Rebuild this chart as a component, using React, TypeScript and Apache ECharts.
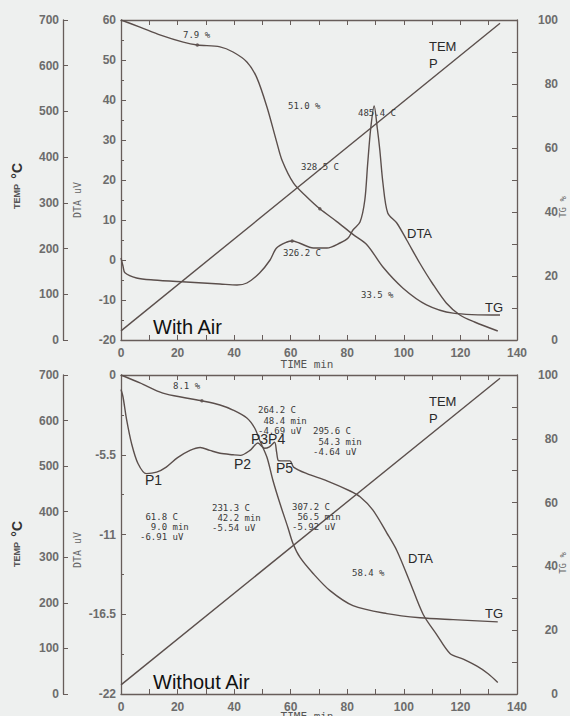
import React, { useEffect, useRef } from "react";
import * as echarts from "echarts";

// ---------- data ----------
const timeTicks = [0, 20, 40, 60, 80, 100, 120, 140];
const tempTicks = [0, 100, 200, 300, 400, 500, 600, 700];
const tgTicks = [0, 20, 40, 60, 80, 100];
const dtaAirTicks = [-20, -10, 0, 10, 20, 30, 40, 50, 60];
const dtaNoAirTicks = [-22, -16.5, -11, -5.5, 0];

// temperature program (both runs)
const tempTime = [0, 134];
const tempAir = [20, 693];
const tempNoAir = [20, 693];

// With Air
const tgAirTime = [0, 6.7, 14, 22, 27, 35, 39.6, 44.5, 48, 51.6, 55, 57, 61, 65.7, 70.3, 76.3, 82, 87, 92.6, 99.7, 108, 117.4, 134];
const tgAirValues = [100, 97.8, 95.3, 93.1, 92.2, 91.6, 90, 86.9, 82, 72.8, 62, 56, 49, 44.7, 41, 37, 33, 29.7, 22.8, 16.2, 11, 8.4, 7.8];

const dtaAirTime = [0, 0.7, 1.4, 5.5, 11.5, 23, 35, 41, 44.5, 49, 52.7, 55, 58.7, 60.5, 63, 68, 72.8, 77.4, 80.3, 82, 84.5, 86.2, 87.2, 88.3, 89.5, 90.6, 91.5, 92.6, 94.3, 97.5, 101, 105.6, 110, 115, 119.8, 125, 133.2];
const dtaAirValues = [0.5, -1.5, -3.2, -4.5, -5, -5.5, -6, -6.25, -5.75, -3.25, 0, 3, 4.5, 4.75, 4.25, 3, 3, 4.25, 5.5, 7.5, 9.5, 15, 24, 33, 38.5, 33, 27.5, 19.25, 11.75, 9.25, 5, -0.75, -5.75, -10.75, -13.75, -15.5, -17.75];

// Without Air
const tgNoAirTime = [0, 6.7, 14.8, 23, 28.6, 35, 39.6, 44.5, 47.3, 49, 51.6, 53.7, 56.2, 59, 60.8, 63.3, 68, 73.9, 82, 94, 105.7, 117.4, 133.2];
const tgNoAirValues = [100, 97.5, 94.3, 92.8, 91.9, 90.6, 89, 86.5, 83.3, 79.6, 74.2, 67, 59.7, 52.2, 47.2, 42.8, 37.7, 32.4, 27.7, 25.2, 23.9, 23.3, 22.6];

const dtaNoAirTime = [0, 0.7, 2, 3.7, 6, 9, 12.6, 16, 20, 24.4, 28, 31.4, 35, 39.6, 42.2, 45.6, 48.4, 50.7, 52.5, 54.3, 55, 55.6, 56.5, 59.7, 61, 65.7, 72.8, 81, 84.5, 89, 94, 97.5, 102, 106.8, 111.6, 116.3, 121, 126, 129.8, 133.2];
const dtaNoAirValues = [-1.0, -1.5, -3.1, -4.7, -6.1, -6.8, -6.7, -6.35, -5.7, -5.2, -5.0, -5.2, -5.4, -5.5, -5.54, -5.2, -4.69, -5.05, -4.95, -4.64, -5.3, -5.9, -5.92, -5.92, -6.35, -6.8, -7.3, -8.0, -8.4, -9.3, -10.9, -12.1, -14.2, -16.5, -17.9, -19.2, -19.6, -20.1, -20.6, -21.2];

// marked points on curves
const tgAirDotTime = [27, 70.3];
const tgAirDotValues = [92.2, 41];
const dtaAirDotTime = [60.5];
const dtaAirDotValues = [4.75];
const tgNoAirDotTime = [28.6];
const tgNoAirDotValues = [91.9];

// ---------- style ----------
const BG = "#eef0ef";
const LINE = "#5b4f4c";
const AXIS = "#675d5a";
const LABEL = "#6c6c6c";
const MONO = "DejaVu Sans Mono";
const SANS = "Liberation Sans";

const pairs = (t: number[], v: number[]) => t.map((x, i) => [x, v[i]]);
const step = (a: number[]) => a[1] - a[0];

function xAxes(grid: number) {
  const base = {
    gridIndex: grid,
    type: "value",
    min: timeTicks[0],
    max: timeTicks[timeTicks.length - 1],
    axisLine: { show: true, onZero: false, lineStyle: { color: AXIS, width: 1.3 } },
    splitLine: { show: false },
  };
  return [
    {
      ...base,
      position: "bottom",
      interval: step(timeTicks),
      axisTick: { show: true, inside: true, length: 5, lineStyle: { color: AXIS } },
      minorTick: { show: true, splitNumber: 2, length: 5, lineStyle: { color: AXIS } },
      axisLabel: { color: LABEL, fontSize: 12, fontFamily: SANS, fontWeight: "bold", margin: 7 },
    },
    {
      ...base,
      position: "top",
      interval: step(timeTicks) / 2,
      axisTick: { show: true, inside: true, length: 5, lineStyle: { color: AXIS } },
      axisLabel: { show: false },
    },
  ];
}

function yAxes(grid: number, dtaTicks: number[]) {
  return [
    {
      gridIndex: grid,
      type: "value",
      position: "left",
      min: dtaTicks[0],
      max: dtaTicks[dtaTicks.length - 1],
      interval: step(dtaTicks),
      axisLine: { show: true, onZero: false, lineStyle: { color: AXIS, width: 1.3 } },
      axisTick: { show: true, inside: true, length: 5, lineStyle: { color: AXIS } },
      minorTick: { show: true, splitNumber: 2, length: 3, lineStyle: { color: AXIS } },
      splitLine: { show: false },
      axisLabel: { color: LABEL, fontSize: 12, fontFamily: SANS, fontWeight: "bold", margin: 5, formatter: (v: number) => String(v) },
    },
    {
      gridIndex: grid,
      type: "value",
      position: "left",
      offset: 58,
      min: tempTicks[0],
      max: tempTicks[tempTicks.length - 1],
      interval: step(tempTicks),
      axisLine: { show: true, onZero: false, lineStyle: { color: AXIS, width: 1.3 } },
      axisTick: { show: true, inside: true, length: 5, lineStyle: { color: AXIS } },
      splitLine: { show: false },
      axisLabel: { color: LABEL, fontSize: 12, fontFamily: SANS, fontWeight: "bold", margin: 4 },
    },
    {
      gridIndex: grid,
      type: "value",
      position: "right",
      min: tgTicks[0],
      max: tgTicks[tgTicks.length - 1],
      interval: step(tgTicks),
      axisLine: { show: true, onZero: false, lineStyle: { color: AXIS, width: 1.3 } },
      axisTick: { show: true, inside: true, length: 5, lineStyle: { color: AXIS } },
      minorTick: { show: true, splitNumber: 2, length: 5, lineStyle: { color: AXIS } },
      splitLine: { show: false },
      axisLabel: { color: LABEL, fontSize: 12, fontFamily: SANS, fontWeight: "bold", margin: 41, align: "right" },
    },
  ];
}

function line(name: string, xi: number, yi: number, data: number[][]) {
  return {
    name,
    type: "line",
    xAxisIndex: xi,
    yAxisIndex: yi,
    data,
    showSymbol: false,
    smooth: 0.3,
    lineStyle: { color: LINE, width: 1.4 },
    z: 3,
  };
}

function dots(xi: number, yi: number, data: number[][]) {
  return {
    type: "scatter",
    xAxisIndex: xi,
    yAxisIndex: yi,
    data,
    symbolSize: 3.5,
    itemStyle: { color: LINE },
    z: 4,
  };
}

function txt(text: string, x: number, y: number, opts: any = {}) {
  return {
    type: "text",
    x,
    y,
    rotation: opts.rotation || 0,
    z: 10,
    style: {
      text,
      fill: opts.fill || "#3a3a3a",
      fontSize: opts.fontSize || 9,
      fontFamily: opts.fontFamily || MONO,
      fontWeight: opts.fontWeight || "normal",
      align: opts.align || "left",
      verticalAlign: opts.verticalAlign || "middle",
      lineHeight: opts.lineHeight || 11,
      rich: opts.rich,
    },
  };
}

const sansLbl = { fontFamily: SANS, fontSize: 13, fill: "#2a2a2a" };

function sideLabels(cyTemp: number, cyDta: number, cyTg: number) {
  return [
    txt("{a|TEMP} {b|°C}", 17, cyTemp, {
      rotation: Math.PI / 2,
      align: "center",
      rich: {
        a: { fontSize: 9, fontWeight: "bold", fontFamily: SANS, fill: "#555" },
        b: { fontSize: 14, fontWeight: "bold", fontFamily: SANS, fill: "#333" },
      },
    }),
    txt("DTA uV", 77, cyDta, { rotation: Math.PI / 2, align: "center", fontSize: 10, fill: "#666" }),
    txt("TG %", 563, cyTg, { rotation: Math.PI / 2, align: "center", fontSize: 9, fill: "#666", lineHeight: 9 }),
  ];
}

export default function App() {
  const ref = useRef<HTMLDivElement>(null);
  useEffect(() => {
    if (!ref.current) return;
    const chart = echarts.init(ref.current, undefined, { renderer: "svg" });
    const option: any = {
      animation: false,
      backgroundColor: BG,
      grid: [
        { left: 121, top: 20, width: 396, height: 320 },
        { left: 121, top: 375, width: 396, height: 319 },
      ],
      xAxis: [...xAxes(0), ...xAxes(1)],
      yAxis: [...yAxes(0, dtaAirTicks), ...yAxes(1, dtaNoAirTicks)],
      series: [
        line("TEMP air", 0, 1, pairs(tempTime, tempAir)),
        line("TG air", 0, 2, pairs(tgAirTime, tgAirValues)),
        line("DTA air", 0, 0, pairs(dtaAirTime, dtaAirValues)),
        dots(0, 2, pairs(tgAirDotTime, tgAirDotValues)),
        dots(0, 0, pairs(dtaAirDotTime, dtaAirDotValues)),
        line("TEMP no air", 2, 4, pairs(tempTime, tempNoAir)),
        line("TG no air", 2, 5, pairs(tgNoAirTime, tgNoAirValues)),
        line("DTA no air", 2, 3, pairs(dtaNoAirTime, dtaNoAirValues)),
        dots(2, 5, pairs(tgNoAirDotTime, tgNoAirDotValues)),
      ],
      graphic: [
        // top panel
        txt("7.9 %", 183, 35),
        txt("51.0 %", 288, 106),
        txt("485.4 C", 358, 113),
        txt("328.5 C", 301, 167),
        txt("326.2 C", 283, 253),
        txt("33.5 %", 361, 295),
        txt("TEM", 429, 46, sansLbl),
        txt("P", 429, 63, sansLbl),
        txt("DTA", 407, 233, sansLbl),
        txt("TG", 485, 307, sansLbl),
        txt("With Air", 153, 327, { fontFamily: SANS, fontSize: 20, fill: "#111" }),
        txt("TIME min", 307, 364, { align: "center", fontSize: 11, fill: "#555" }),
        ...sideLabels(186, 200, 207),
        // bottom panel
        txt("8.1 %", 173, 386),
        txt("264.2 C\n 48.4 min\n-4.69 uV", 258, 405, { verticalAlign: "top", lineHeight: 10.5 }),
        txt("295.6 C\n 54.3 min\n-4.64 uV", 313, 426, { verticalAlign: "top", lineHeight: 10.5 }),
        txt(" 61.8 C\n  9.0 min\n-6.91 uV", 140, 512, { verticalAlign: "top", lineHeight: 10 }),
        txt("231.3 C\n 42.2 min\n-5.54 uV", 212, 503, { verticalAlign: "top", lineHeight: 10 }),
        txt("307.2 C\n 56.5 min\n-5.92 uV", 292, 502, { verticalAlign: "top", lineHeight: 10 }),
        txt("P3P4", 251, 439, { ...sansLbl, fontSize: 14 }),
        txt("P2", 234, 464, { ...sansLbl, fontSize: 14 }),
        txt("P1", 145, 480, { ...sansLbl, fontSize: 14 }),
        txt("P5", 276, 468, { ...sansLbl, fontSize: 14 }),
        txt("58.4 %", 352, 573),
        txt("TEM", 429, 401, sansLbl),
        txt("P", 429, 418, sansLbl),
        txt("DTA", 408, 558, sansLbl),
        txt("TG", 485, 613, sansLbl),
        txt("Without Air", 153, 682, { fontFamily: SANS, fontSize: 20, fill: "#111" }),
        txt("TIME min", 307, 716, { align: "center", fontSize: 11, fill: "#555" }),
        ...sideLabels(544, 550, 563),
      ],
    };
    chart.setOption(option);
    return () => chart.dispose();
  }, []);
  return (
    <div style={{ position: "absolute", left: 0, top: 0, width: 570, height: 716, background: BG }}>
      <div ref={ref} style={{ width: 570, height: 716 }} />
    </div>
  );
}
